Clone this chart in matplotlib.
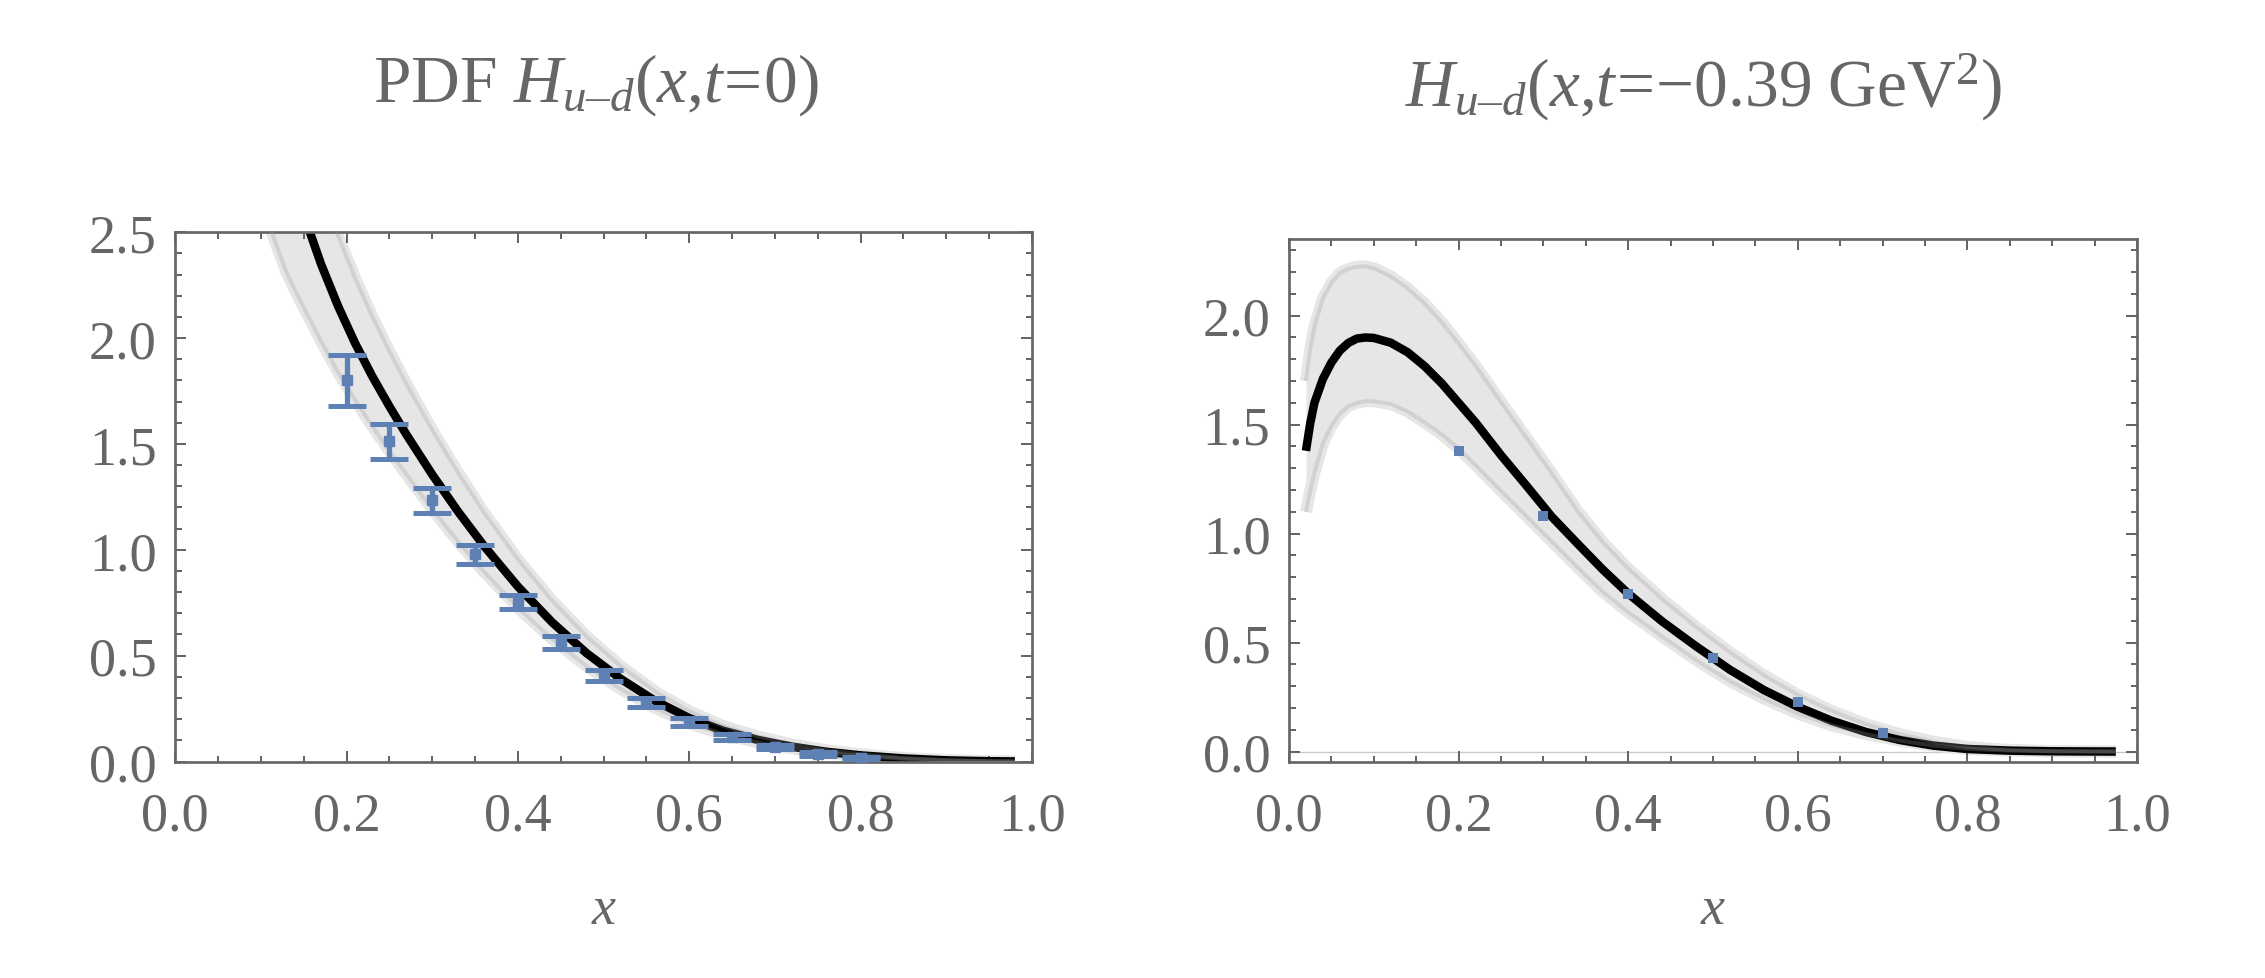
import matplotlib
matplotlib.use('Agg')
import matplotlib.pyplot as plt
from matplotlib.ticker import MultipleLocator, FormatStrFormatter

plt.rcParams['font.family'] = ['Liberation Serif', 'DejaVu Serif']
plt.rcParams['mathtext.fontset'] = 'custom'
plt.rcParams['mathtext.rm'] = 'Liberation Serif'
plt.rcParams['mathtext.it'] = 'Liberation Serif:italic'
plt.rcParams['mathtext.bf'] = 'Liberation Serif:bold'

# ---------------- data: left panel, t = 0 ----------------
xl = [0.11, 0.12, 0.13, 0.14, 0.15, 0.17, 0.19, 0.21, 0.23, 0.25, 0.27, 0.30, 0.33,
      0.36, 0.40, 0.44, 0.48, 0.52, 0.56, 0.60, 0.64, 0.68, 0.72, 0.76, 0.80, 0.85,
      0.90, 0.95, 0.98]
mid_l = [3.168, 3.003, 2.851, 2.711, 2.583, 2.351, 2.151, 1.975, 1.819, 1.677, 1.543,
         1.355, 1.181, 1.020, 0.826, 0.657, 0.512, 0.390, 0.287, 0.205, 0.145, 0.102,
         0.070, 0.046, 0.029, 0.0145, 0.0055, 0.0013, 0.0002]
lower_l = [2.534, 2.417, 2.309, 2.223, 2.144, 1.987, 1.839, 1.708, 1.583, 1.467, 1.355,
           1.192, 1.039, 0.898, 0.727, 0.578, 0.451, 0.343, 0.253, 0.180, 0.128, 0.090,
           0.062, 0.040, 0.0255, 0.0128, 0.0048, 0.0011, 0.0002]
upper_l = [3.659, 3.468, 3.293, 3.131, 2.983, 2.715, 2.484, 2.281, 2.101, 1.937, 1.782,
           1.565, 1.364, 1.178, 0.954, 0.759, 0.591, 0.450, 0.331, 0.237, 0.167, 0.118,
           0.081, 0.053, 0.0335, 0.0167, 0.0064, 0.0015, 0.0002]

px_l = [0.20, 0.25, 0.30, 0.35, 0.40, 0.45, 0.50, 0.55, 0.60, 0.65, 0.70, 0.75, 0.80]
py_l = [1.804, 1.514, 1.237, 0.980, 0.752, 0.563, 0.407, 0.280, 0.185, 0.116, 0.067, 0.035, 0.017]
py_l_hi = [1.919, 1.593, 1.292, 1.023, 0.788, 0.594, 0.432, 0.300, 0.204, 0.132, 0.078, 0.043, 0.022]
py_l_lo = [1.680, 1.431, 1.174, 0.933, 0.720, 0.531, 0.382, 0.257, 0.166, 0.100, 0.057, 0.026, 0.012]

# ---------------- data: right panel, t = -0.39 GeV^2 ----------------
xr = [0.02, 0.025, 0.03, 0.04, 0.05, 0.06, 0.07, 0.08, 0.09, 0.10, 0.12, 0.14, 0.16,
      0.18, 0.20, 0.22, 0.25, 0.28, 0.31, 0.34, 0.37, 0.40, 0.44, 0.48, 0.52, 0.56,
      0.60, 0.64, 0.68, 0.72, 0.76, 0.80, 0.85, 0.90, 0.95, 0.975]
mid_r = [1.38, 1.505, 1.60, 1.71, 1.785, 1.84, 1.875, 1.895, 1.90, 1.898, 1.876, 1.832,
         1.768, 1.69, 1.60, 1.51, 1.36, 1.22, 1.077, 0.955, 0.835, 0.725, 0.597, 0.483,
         0.375, 0.282, 0.205, 0.141, 0.090, 0.053, 0.027, 0.0115, 0.004, 0.001, 0.0002, 0.0]
upper_r = [1.70, 1.845, 1.95, 2.08, 2.15, 2.195, 2.215, 2.225, 2.226, 2.218, 2.18, 2.125,
           2.055, 1.97, 1.872, 1.77, 1.603, 1.44, 1.275, 1.105, 0.96, 0.84, 0.70, 0.572,
           0.455, 0.35, 0.26, 0.186, 0.126, 0.08, 0.045, 0.021, 0.007, 0.0015, 0.0003, 0.0]
lower_r = [1.10, 1.195, 1.28, 1.415, 1.495, 1.55, 1.585, 1.60, 1.608, 1.607, 1.595, 1.56,
           1.51, 1.456, 1.39, 1.315, 1.196, 1.08, 0.963, 0.847, 0.733, 0.64, 0.528, 0.42,
           0.323, 0.243, 0.174, 0.120, 0.080, 0.050, 0.027, 0.012, 0.004, 0.001, 0.0002, 0.0]

px_r = [0.2, 0.3, 0.4, 0.5, 0.6, 0.7]
py_r = [1.378, 1.082, 0.7225, 0.429, 0.227, 0.085]

title_l = r'PDF $H_{u–d}(x{,}t\!=\!0)$'
title_r = r'$H_{u–d}(x{,}t\!=\!{-}0.39\ \mathrm{GeV}^2)$'
xlabel = 'x'

# ---------------- styling ----------------
GRAY = '#666666'
BLUE = '#5E81B5'
PX = 72 / 100.0  # points per pixel at dpi 100

fig = plt.figure(figsize=(22.65, 9.79), dpi=100)
ax1 = fig.add_axes([0.07740, 0.22114, 0.37823, 0.54055])
ax2 = fig.add_axes([0.56909, 0.22033, 0.37440, 0.53452])


def style(ax):
    ax.tick_params(which='both', direction='in', top=True, right=True,
                   colors=GRAY, labelsize=39, width=2 * PX)
    ax.tick_params(which='major', length=11 * PX)
    ax.tick_params(which='minor', length=6.5 * PX)
    ax.tick_params(axis='x', which='both', pad=21)
    ax.tick_params(axis='y', which='both', pad=13.4)
    for s in ax.spines.values():
        s.set_color(GRAY)
        s.set_linewidth(2.7 * PX)
    ax.xaxis.set_major_locator(MultipleLocator(0.2))
    ax.xaxis.set_minor_locator(MultipleLocator(0.05))
    ax.yaxis.set_major_locator(MultipleLocator(0.5))
    ax.yaxis.set_minor_locator(MultipleLocator(0.1))
    ax.xaxis.set_major_formatter(FormatStrFormatter('%.1f'))
    ax.yaxis.set_major_formatter(FormatStrFormatter('%.1f'))


def band(ax, x, lo, hi, mid):
    ax.fill_between(x, lo, hi, color='#E6E6E6', lw=0, zorder=1)
    for y in (lo, hi):
        ax.plot(x, y, color='#E6E6E6', lw=12 * PX, solid_capstyle='butt', zorder=1.5)
    ax.plot(x, mid, color='black', lw=8.5 * PX, solid_capstyle='butt',
            solid_joinstyle='round', zorder=2)
    for y in (lo, hi):
        ax.plot(x, y, color='#999999', alpha=0.27, lw=4 * PX,
                solid_capstyle='butt', zorder=3)


# left panel
band(ax1, xl, lower_l, upper_l, mid_l)
yerr_l = [[c - l for c, l in zip(py_l, py_l_lo)], [h - c for c, h in zip(py_l, py_l_hi)]]
ax1.errorbar(px_l, py_l, yerr=yerr_l, fmt='s', ms=7.2, color=BLUE, ecolor=BLUE,
             markeredgecolor=BLUE, elinewidth=3.8, capsize=13.9, capthick=3.6,
             zorder=5)
ax1.set_xlim(0, 1)
ax1.set_ylim(0, 2.5)
style(ax1)

# right panel
ax2.axhline(0, color='#C8C8C8', lw=1.3 * PX, zorder=0.5)
band(ax2, xr, lower_r, upper_r, mid_r)
ax2.plot(px_r, py_r, 's', ms=7.6, color=BLUE, mew=0, zorder=5)
ax2.set_xlim(0, 1)
ax2.set_ylim(-0.0495, 2.352)
style(ax2)

# titles and axis labels
fig.text(373 / 2265, 1 - 101.7 / 979, title_l, ha='left', va='baseline',
         fontsize=48.5, color=GRAY)
fig.text(1405 / 2265, 1 - 106.7 / 979, title_r, ha='left', va='baseline',
         fontsize=48.5, color=GRAY)
fig.text(603.7 / 2265, 55 / 979, xlabel, ha='center', va='baseline',
         fontsize=39, color=GRAY, fontstyle='italic')
fig.text(1713 / 2265, 55 / 979, xlabel, ha='center', va='baseline',
         fontsize=39, color=GRAY, fontstyle='italic')

fig.savefig('out.png', dpi=100)
